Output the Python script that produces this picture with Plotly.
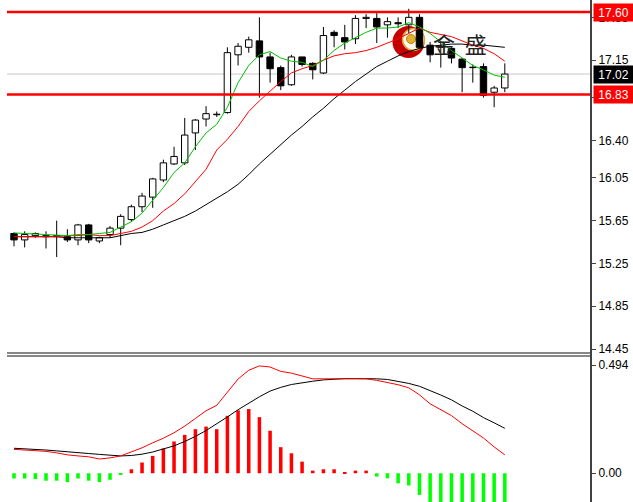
import plotly.graph_objects as go

# ---------------- data ----------------
idx = list(range(47))
opens = [15.53, 15.47, 15.51, 15.50, 15.51, 15.50, 15.47, 15.61, 15.46, 15.52,
         15.58, 15.66, 15.78, 15.87, 16.03, 16.18, 16.19, 16.47, 16.60, 16.64,
         16.66, 17.20, 17.27, 17.33, 17.18, 17.08, 16.92, 17.18, 17.12, 17.03,
         17.41, 17.36, 17.35, 17.54, 17.54, 17.48, 17.50, 17.48, 17.55, 17.29,
         17.27, 17.26, 17.16, 17.08, 17.09, 16.85, 16.89]
highs = [15.54, 15.55, 15.54, 15.55, 15.65, 15.57, 15.62, 15.62, 15.50, 15.60,
         15.71, 15.80, 15.91, 16.05, 16.22, 16.34, 16.61, 16.60, 16.72, 16.67,
         17.27, 17.31, 17.37, 17.55, 17.22, 17.10, 17.20, 17.18, 17.13, 17.46,
         17.43, 17.48, 17.57, 17.58, 17.59, 17.55, 17.55, 17.63, 17.58, 17.32,
         17.33, 17.27, 17.17, 17.11, 17.12, 16.91, 17.12]
lows = [15.41, 15.40, 15.49, 15.39, 15.31, 15.45, 15.42, 15.44, 15.44, 15.49,
        15.42, 15.64, 15.73, 15.77, 16.01, 16.17, 16.17, 16.31, 16.53, 16.62,
        16.65, 17.10, 17.22, 16.80, 16.94, 16.87, 16.91, 17.09, 16.97, 17.02,
        17.27, 17.25, 17.30, 17.45, 17.31, 17.36, 17.45, 17.40, 17.26, 17.13,
        17.08, 17.12, 16.85, 16.94, 16.80, 16.71, 16.85]
closes = [15.47, 15.52, 15.53, 15.51, 15.50, 15.47, 15.61, 15.47, 15.49, 15.58,
          15.69, 15.78, 15.88, 16.04, 16.19, 16.25, 16.45, 16.59, 16.65, 16.645,
          17.22, 17.28, 17.34, 17.18, 17.07, 16.91, 17.18, 17.11, 17.06, 17.38,
          17.38, 17.32, 17.54, 17.55, 17.46, 17.51, 17.49, 17.55, 17.27, 17.20,
          17.28, 17.17, 17.08, 17.08, 16.82, 16.89, 17.02]

ma_fast = [15.535, 15.53, 15.53, 15.52, 15.52, 15.51, 15.52, 15.52, 15.53, 15.54,
           15.59, 15.64, 15.72, 15.84, 15.96, 16.10, 16.19, 16.34, 16.47, 16.55,
           16.71, 16.94, 17.10, 17.20, 17.23, 17.17, 17.14, 17.13, 17.09, 17.15,
           17.24, 17.31, 17.36, 17.41, 17.45, 17.45, 17.46, 17.50, 17.46, 17.40,
           17.32, 17.24, 17.17, 17.10, 17.06, 17.01, 16.99]
ma_mid = [15.50, 15.50, 15.50, 15.50, 15.50, 15.51, 15.51, 15.52, 15.51, 15.51,
          15.53, 15.55, 15.59, 15.65, 15.74, 15.81, 15.90, 16.02, 16.13, 16.31,
          16.41, 16.53, 16.67, 16.77, 16.86, 16.95, 17.03, 17.07, 17.10, 17.15,
          17.19, 17.21, 17.22, 17.24, 17.27, 17.31, 17.35, 17.40, 17.45, 17.41,
          17.39, 17.37, 17.33, 17.29, 17.26, 17.21, 17.14]
ma_slow = [15.50, 15.50, 15.50, 15.50, 15.50, 15.49, 15.49, 15.49, 15.49, 15.49,
           15.51, 15.53, 15.54, 15.57, 15.61, 15.65, 15.69, 15.74, 15.80, 15.86,
           15.92, 15.99, 16.08, 16.18, 16.27, 16.36, 16.45, 16.53, 16.62, 16.70,
           16.79, 16.87, 16.95, 17.02, 17.09, 17.14, 17.19, 17.23, 17.26, 17.28,
           17.29, 17.30, 17.30, 17.29, 17.29, 17.28, 17.27]

macd_hist = [-0.024, -0.024, -0.027, -0.034, -0.034, -0.040, -0.024, -0.034, -0.040, -0.030,
             -0.005, 0.018, 0.049, 0.079, 0.113, 0.145, 0.175, 0.201, 0.213, 0.201,
             0.262, 0.287, 0.293, 0.256, 0.194, 0.119, 0.091, 0.053, 0.012, 0.018,
             0.018, 0.003, 0.012, 0.012, -0.015, -0.023, -0.046, -0.056, -0.099, -0.15,
             -0.17, -0.19, -0.20, -0.21, -0.22, -0.22, -0.22]
macd_line = [0.109, 0.107, 0.104, 0.100, 0.093, 0.084, 0.079, 0.075, 0.065, 0.070,
             0.079, 0.097, 0.116, 0.139, 0.160, 0.185, 0.215, 0.250, 0.285, 0.310,
             0.370, 0.430, 0.470, 0.490, 0.485, 0.465, 0.457, 0.445, 0.431, 0.431,
             0.431, 0.431, 0.431, 0.431, 0.424, 0.415, 0.404, 0.390, 0.358, 0.317,
             0.290, 0.263, 0.226, 0.194, 0.161, 0.120, 0.084]
signal_line = [0.114, 0.112, 0.109, 0.106, 0.102, 0.099, 0.095, 0.090, 0.086, 0.082,
               0.079, 0.081, 0.087, 0.097, 0.110, 0.125, 0.145, 0.168, 0.195, 0.225,
               0.257, 0.290, 0.320, 0.349, 0.375, 0.392, 0.405, 0.414, 0.420, 0.426,
               0.430, 0.432, 0.432, 0.432, 0.431, 0.428, 0.419, 0.410, 0.397, 0.378,
               0.357, 0.335, 0.307, 0.283, 0.254, 0.230, 0.205]

price_ticks = [17.55, 17.15, 16.80, 16.40, 16.05, 15.65, 15.25, 14.85, 14.45]
macd_ticks = [0.494, 0.0]
macd_tick_text = ["0.494", "0.00"]
resistance = 17.60
support = 16.83
last_price = 17.02
watermark = "金  盛"

# ---------------- figure ----------------
W, H = 633, 502
ML, MR = 7, 42
fig = go.Figure()

# wicks (split so they don't cross white bodies)
wx, wy = [], []
for i, o, h, l, c in zip(idx, opens, highs, lows, closes):
    top, bot = max(o, c), min(o, c)
    wx += [i, i, None, i, i, None]
    wy += [top, h, None, l, bot, None]
fig.add_trace(go.Scatter(x=wx, y=wy, mode="lines", line=dict(color="black", width=1),
                         hoverinfo="skip", showlegend=False, xaxis="x", yaxis="y"))

body_base = [min(o, c) for o, c in zip(opens, closes)]
body_h = [max(abs(c - o), 0.004) for o, c in zip(opens, closes)]
body_col = ["white" if c >= o else "black" for o, c in zip(opens, closes)]
fig.add_trace(go.Bar(x=idx, y=body_h, base=body_base, width=0.6,
                     marker=dict(color=body_col, line=dict(color="black", width=1)),
                     showlegend=False, xaxis="x", yaxis="y"))

fig.add_trace(go.Scatter(x=idx, y=ma_slow, mode="lines", line=dict(color="black", width=1),
                         showlegend=False, xaxis="x", yaxis="y"))
fig.add_trace(go.Scatter(x=idx, y=ma_mid, mode="lines", line=dict(color="#ff0000", width=1),
                         showlegend=False, xaxis="x", yaxis="y"))
fig.add_trace(go.Scatter(x=idx, y=ma_fast, mode="lines", line=dict(color="#00c000", width=1),
                         showlegend=False, xaxis="x", yaxis="y"))

# MACD panel
hist_col = ["#ff0000" if v >= 0 else "#00ff00" for v in macd_hist]
fig.add_trace(go.Bar(x=idx, y=macd_hist, width=0.33, marker=dict(color=hist_col, line=dict(width=0)),
                     showlegend=False, xaxis="x2", yaxis="y2"))
fig.add_trace(go.Scatter(x=idx, y=signal_line, mode="lines", line=dict(color="black", width=1),
                         showlegend=False, xaxis="x2", yaxis="y2"))
fig.add_trace(go.Scatter(x=idx, y=macd_line, mode="lines", line=dict(color="#ff0000", width=1),
                         showlegend=False, xaxis="x2", yaxis="y2"))

px_per_bar = 10.67
x_lo = 0 - (14 - ML) / px_per_bar
x_hi = x_lo + (W - ML - MR) / px_per_bar

main_top_px, main_bot_px = 0, 352
sub_top_px, sub_bot_px = 357, 502
ppu = 107.0
y_top = resistance + (12 - main_top_px) / ppu
y_bot = y_top - (main_bot_px - main_top_px) / ppu
m_ppu = 218.6
m_top = 0.494 + (365 - sub_top_px) / m_ppu
m_bot = 0 - (sub_bot_px - 473.3) / m_ppu

axfont = dict(family="Liberation Sans, Arial, sans-serif", size=12, color="black")
fig.update_layout(
    width=W, height=H,
    margin=dict(l=ML, r=MR, t=0, b=0, pad=0),
    paper_bgcolor="white", plot_bgcolor="white",
    barmode="overlay", showlegend=False,
    xaxis=dict(domain=[0, 1], range=[x_lo, x_hi], visible=False, anchor="y"),
    xaxis2=dict(domain=[0, 1], range=[x_lo, x_hi], visible=False, anchor="y2", matches="x"),
    yaxis=dict(domain=[(H - main_bot_px) / H, 1], range=[y_bot, y_top], side="right",
               tickvals=price_ticks, ticktext=[f"{v:.2f}" for v in price_ticks],
               ticks="outside", ticklen=4, tickcolor="#444", tickfont=axfont,
               showgrid=False, zeroline=False, showline=False, anchor="x", automargin=False),
    yaxis2=dict(domain=[0, (H - sub_top_px) / H], range=[m_bot, m_top], side="right",
                tickvals=macd_ticks, ticktext=macd_tick_text,
                ticks="outside", ticklen=4, tickcolor="#444", tickfont=axfont,
                showgrid=False, zeroline=False, showline=False, anchor="x2", automargin=False),
)

shapes = []
# current price line
shapes.append(dict(type="line", xref="paper", x0=0, x1=1, yref="y", y0=last_price, y1=last_price,
                   line=dict(color="#c8c8c8", width=1), layer="below"))
# logo (decoration)
def circ(cx, cy, r, fill, lc=None, lw=0, layer="below"):
    return dict(type="circle", xref="paper", yref="paper",
                xsizemode="pixel", ysizemode="pixel",
                xanchor=(cx - ML) / (W - ML - MR), yanchor=1 - cy / H,
                x0=-r, x1=r, y0=-r, y1=r, fillcolor=fill,
                line=dict(color=lc or fill, width=lw), layer=layer)
shapes.append(circ(408.5, 42, 16, "#c40000"))
shapes.append(circ(413.5, 39.5, 11, "#fff8ec", "#d8a630", 1.5))
shapes.append(circ(411, 39, 4.5, "#e2b22a", "#b8861a", 1))
# support / resistance lines
for lvl in (resistance, support):
    shapes.append(dict(type="line", xref="paper", x0=0, x1=1, yref="y", y0=lvl, y1=lvl,
                       line=dict(color="#ff0000", width=2.5), layer="above"))
# panel separator (double line)
for py in (353, 356):
    shapes.append(dict(type="line", xref="paper", x0=0, x1=1, yref="paper",
                       y0=1 - py / H, y1=1 - py / H, line=dict(color="#606060", width=1.3)))
# right axis line
shapes.append(dict(type="line", xref="paper", x0=1, x1=1, yref="paper", y0=0, y1=1,
                   line=dict(color="#404040", width=2)))
fig.update_layout(shapes=shapes)

ann = []
for lvl, bg in ((resistance, "#ff0000"), (last_price, "#000000"), (support, "#ff0000")):
    ann.append(dict(xref="paper", x=1, xanchor="left", xshift=2, yref="y", y=lvl, yanchor="middle",
                    text=f"{lvl:.2f}", showarrow=False, bgcolor=bg, width=37, height=15,
                    borderpad=1, font=dict(family="Liberation Sans, Arial, sans-serif", size=12,
                                           color="white")))
ann.append(dict(xref="paper", yref="paper", x=(460 - ML) / (W - ML - MR), y=1 - 43 / H,
                text=watermark, showarrow=False, xanchor="center", yanchor="middle",
                font=dict(family="Noto Sans CJK SC", size=22, color="#222")))
fig.update_layout(annotations=ann)

fig.write_html("out.html", config={"displayModeBar": False},
               post_script="document.body.style.margin='0';document.body.style.padding='0';")
